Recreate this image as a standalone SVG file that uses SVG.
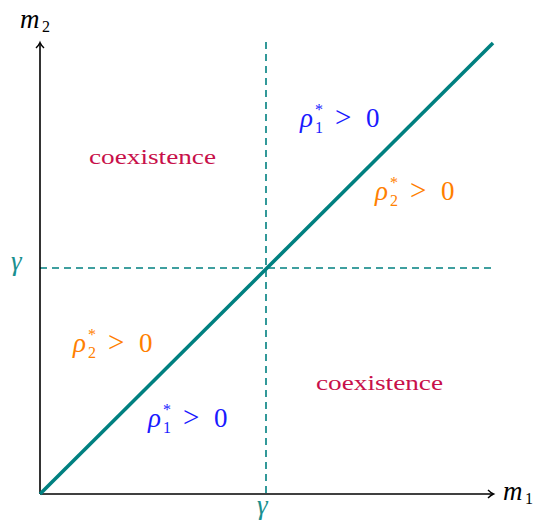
<svg xmlns="http://www.w3.org/2000/svg" width="538" height="527" viewBox="0 0 538 527">
<style>
.ax{stroke:#000;stroke-width:1.6;fill:none}
.dash{stroke:#008080;stroke-width:1.6;stroke-dasharray:7,5;fill:none}
text{font-family:'Liberation Serif','Times New Roman',serif}
.mi{font-style:italic;font-size:27px}
.n{font-style:normal;font-size:27px}
.g{font-style:normal;font-size:29px}
.sm{font-size:16px;font-style:normal}
.co{font-size:22px;fill:#c8104a}
.b{fill:#1a1aff}.o{fill:#ff8000}.t{fill:#1a9090}
</style>
<defs>
<marker id="ar" markerWidth="10" markerHeight="10" refX="7" refY="5" orient="auto" markerUnits="userSpaceOnUse">
<path d="M2,1 Q5,4 7.5,5 Q5,6 2,9" fill="none" stroke="#000" stroke-width="1.4"/>
</marker>
</defs>
<g id="connectors">
<line class="dash" x1="266" y1="42" x2="266" y2="494"/>
<line class="dash" x1="40" y1="268" x2="494" y2="268"/>
<line class="ax" x1="40" y1="494" x2="40" y2="43" marker-end="url(#ar)"/>
<line class="ax" x1="40" y1="494" x2="493" y2="494" marker-end="url(#ar)"/>
<line x1="40" y1="494" x2="493" y2="43" stroke="#008080" stroke-width="3.6"/>
</g>
<g id="axis-m2"><text class="mi" x="20" y="28">m<tspan class="sm" x="42" dy="4">2</tspan></text></g>
<g id="axis-m1"><text class="mi" x="503" y="500">m<tspan class="sm" x="525" dy="4">1</tspan></text></g>
<g id="gamma-left"><text class="mi t" x="11" y="270">γ</text></g>
<g id="gamma-bottom"><text class="mi t" x="257" y="514">γ</text></g>
<g id="rho1-top" class="b"><text class="mi" x="300" y="127">ρ<tspan class="sm" x="315" dy="-12">*</tspan><tspan class="sm" x="315" dy="18">1</tspan><tspan class="g" x="335" dy="-6">&gt;</tspan><tspan class="n" x="366">0</tspan></text></g>
<g id="rho2-right" class="o"><text class="mi" x="375" y="200">ρ<tspan class="sm" x="390" dy="-12">*</tspan><tspan class="sm" x="390" dy="18">2</tspan><tspan class="g" x="410" dy="-6">&gt;</tspan><tspan class="n" x="441">0</tspan></text></g>
<g id="rho2-left" class="o"><text class="mi" x="73" y="352">ρ<tspan class="sm" x="88" dy="-12">*</tspan><tspan class="sm" x="88" dy="18">2</tspan><tspan class="g" x="108" dy="-6">&gt;</tspan><tspan class="n" x="139">0</tspan></text></g>
<g id="rho1-bottom" class="b"><text class="mi" x="148" y="427">ρ<tspan class="sm" x="163" dy="-12">*</tspan><tspan class="sm" x="163" dy="18">1</tspan><tspan class="g" x="183" dy="-6">&gt;</tspan><tspan class="n" x="214">0</tspan></text></g>
<g id="coex-top"><text class="co" x="89" y="164" textLength="127" lengthAdjust="spacingAndGlyphs">coexistence</text></g>
<g id="coex-bottom"><text class="co" x="316" y="390" textLength="127" lengthAdjust="spacingAndGlyphs">coexistence</text></g>
</svg>
